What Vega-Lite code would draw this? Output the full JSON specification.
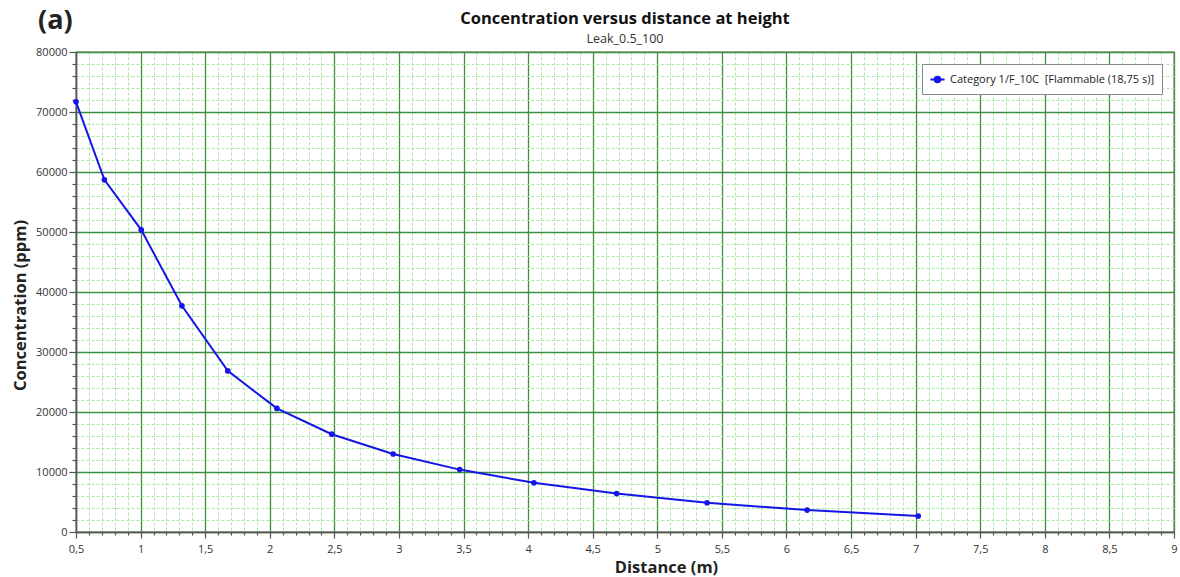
{
  "$schema": "https://vega.github.io/schema/vega-lite/v6.json",
  "width": 1098,
  "height": 480,
  "autosize": {"type": "none"},
  "padding": {"left": 76, "top": 52, "right": 6, "bottom": 45},
  "background": "white",
  "title": {
    "text": "Concentration versus distance at height",
    "subtitle": "Leak_0.5_100",
    "anchor": "middle",
    "font": "Open Sans",
    "fontSize": 16.5,
    "fontWeight": "bold",
    "color": "#111111",
    "subtitleFont": "Open Sans",
    "subtitleFontSize": 12.5,
    "subtitleColor": "#333333",
    "subtitlePadding": 6,
    "offset": 6,
    "dy": 44.5
  },
  "data": {
    "values": [
      {"series": "Category 1/F_10C  [Flammable (18,75 s)]", "distance": 0.5, "concentration": 71700},
      {"series": "Category 1/F_10C  [Flammable (18,75 s)]", "distance": 0.72, "concentration": 58700},
      {"series": "Category 1/F_10C  [Flammable (18,75 s)]", "distance": 1.005, "concentration": 50350},
      {"series": "Category 1/F_10C  [Flammable (18,75 s)]", "distance": 1.32, "concentration": 37700},
      {"series": "Category 1/F_10C  [Flammable (18,75 s)]", "distance": 1.675, "concentration": 26850},
      {"series": "Category 1/F_10C  [Flammable (18,75 s)]", "distance": 2.055, "concentration": 20600},
      {"series": "Category 1/F_10C  [Flammable (18,75 s)]", "distance": 2.48, "concentration": 16300},
      {"series": "Category 1/F_10C  [Flammable (18,75 s)]", "distance": 2.955, "concentration": 13000},
      {"series": "Category 1/F_10C  [Flammable (18,75 s)]", "distance": 3.47, "concentration": 10400},
      {"series": "Category 1/F_10C  [Flammable (18,75 s)]", "distance": 4.045, "concentration": 8200},
      {"series": "Category 1/F_10C  [Flammable (18,75 s)]", "distance": 4.685, "concentration": 6400},
      {"series": "Category 1/F_10C  [Flammable (18,75 s)]", "distance": 5.385, "concentration": 4870},
      {"series": "Category 1/F_10C  [Flammable (18,75 s)]", "distance": 6.16, "concentration": 3650},
      {"series": "Category 1/F_10C  [Flammable (18,75 s)]", "distance": 7.02, "concentration": 2650}
    ]
  },
  "transform": [
    {"calculate": "replace(datum.series, '  ', '\u00a0 ')", "as": "series"}
  ],
  "layer": [
    {
      "mark": {
        "type": "line",
        "interpolate": "linear",
        "strokeWidth": 2,
        "point": {"filled": true, "size": 32}
      },
      "encoding": {
        "x": {
          "field": "distance",
          "type": "quantitative",
          "scale": {"domain": [0.5, 9], "nice": false, "zero": false},
          "axis": {
            "title": "Distance (m)",
            "tickCount": 200,
            "values": [0.5, 0.6, 0.7, 0.8, 0.9, 1, 1.1, 1.2, 1.3, 1.4, 1.5, 1.6, 1.7, 1.8, 1.9, 2, 2.1, 2.2, 2.3, 2.4, 2.5, 2.6, 2.7, 2.8, 2.9, 3, 3.1, 3.2, 3.3, 3.4, 3.5, 3.6, 3.7, 3.8, 3.9, 4, 4.1, 4.2, 4.3, 4.4, 4.5, 4.6, 4.7, 4.8, 4.9, 5, 5.1, 5.2, 5.3, 5.4, 5.5, 5.6, 5.7, 5.8, 5.9, 6, 6.1, 6.2, 6.3, 6.4, 6.5, 6.6, 6.7, 6.8, 6.9, 7, 7.1, 7.2, 7.3, 7.4, 7.5, 7.6, 7.7, 7.8, 7.9, 8, 8.1, 8.2, 8.3, 8.4, 8.5, 8.6, 8.7, 8.8, 8.9, 9],
            "labelExpr": "abs(datum.value * 2 - round(datum.value * 2)) < 0.001 ? replace(format(datum.value, '~g'), '.', ',') : ''",
            "gridColor": {"condition": {"test": "abs(datum.value * 2 - round(datum.value * 2)) < 0.001", "value": "#3f8f3f"}, "value": "#a6eaa6"},
            "gridDash": {"condition": {"test": "abs(datum.value * 2 - round(datum.value * 2)) < 0.001", "value": []}, "value": [3, 2]},
            "gridWidth": {"condition": {"test": "abs(datum.value * 2 - round(datum.value * 2)) < 0.001", "value": 1.3}, "value": 1},
            "tickSize": {"condition": {"test": "abs(datum.value * 2 - round(datum.value * 2)) < 0.001", "value": 6}, "value": 3},
            "titleX": 590,
            "titlePadding": 5,
            "labelPadding": 5
          }
        },
        "y": {
          "field": "concentration",
          "type": "quantitative",
          "scale": {"domain": [0, 80000], "nice": false, "zero": true},
          "axis": {
            "title": "Concentration (ppm)",
            "tickCount": 200,
            "values": [0, 2000, 4000, 6000, 8000, 10000, 12000, 14000, 16000, 18000, 20000, 22000, 24000, 26000, 28000, 30000, 32000, 34000, 36000, 38000, 40000, 42000, 44000, 46000, 48000, 50000, 52000, 54000, 56000, 58000, 60000, 62000, 64000, 66000, 68000, 70000, 72000, 74000, 76000, 78000, 80000],
            "labelExpr": "datum.value % 10000 === 0 ? format(datum.value, 'd') : ''",
            "gridColor": {"condition": {"test": "datum.value % 10000 === 0", "value": "#3f8f3f"}, "value": "#a6eaa6"},
            "gridDash": {"condition": {"test": "datum.value % 10000 === 0", "value": []}, "value": [3, 2]},
            "gridWidth": {"condition": {"test": "datum.value % 10000 === 0", "value": 1.3}, "value": 1},
            "tickSize": {"condition": {"test": "datum.value % 10000 === 0", "value": 7}, "value": 4},
            "labelPadding": 2,
            "titlePadding": 7,
            "titleY": 253
          }
        },
        "color": {
          "field": "series",
          "type": "nominal",
          "scale": {"range": ["#1515e8"]},
          "legend": {
            "title": null,
            "orient": "top-right",
            "offset": 12
          }
        }
      }
    },
    {
      "data": {"values": [{"panel": "(a)"}]},
      "mark": {
        "type": "text",
        "font": "Open Sans",
        "fontSize": 27,
        "fontWeight": "bold",
        "color": "#222222",
        "align": "left",
        "baseline": "middle",
        "dx": -38,
        "dy": -31
      },
      "encoding": {
        "x": {"datum": 0.5},
        "y": {"datum": 80000},
        "text": {"field": "panel"}
      }
    }
  ],
  "config": {
    "font": "Open Sans",
    "view": {"stroke": "#666666", "strokeWidth": 1.3},
    "axis": {
      "grid": true,
      "domainColor": "#555555",
      "domainWidth": 1.5,
      "tickColor": "#555555",
      "tickWidth": 1.2,
      "labelFont": "Open Sans",
      "labelFontSize": 11,
      "labelColor": "#333333",
      "labelOverlap": false,
      "labelFlush": false,
      "labelBound": false,
      "titleFont": "Open Sans",
      "titleFontSize": 16.5,
      "titleFontWeight": "bold",
      "titleColor": "#222222"
    },
    "legend": {
      "strokeColor": "#8a8a8a",
      "fillColor": "white",
      "padding": 7,
      "cornerRadius": 0,
      "labelFont": "Open Sans",
      "labelFontSize": 11,
      "labelLimit": 400,
      "labelColor": "#222222",
      "symbolType": "M-1,0H1M-0.4,0A0.4,0.4,0,1,1,0.4,0A0.4,0.4,0,1,1,-0.4,0Z",
      "symbolSize": 200,
      "symbolStrokeWidth": 2,
      "symbolFillColor": "#1515e8",
      "symbolStrokeColor": "#1515e8"
    }
  }
}
